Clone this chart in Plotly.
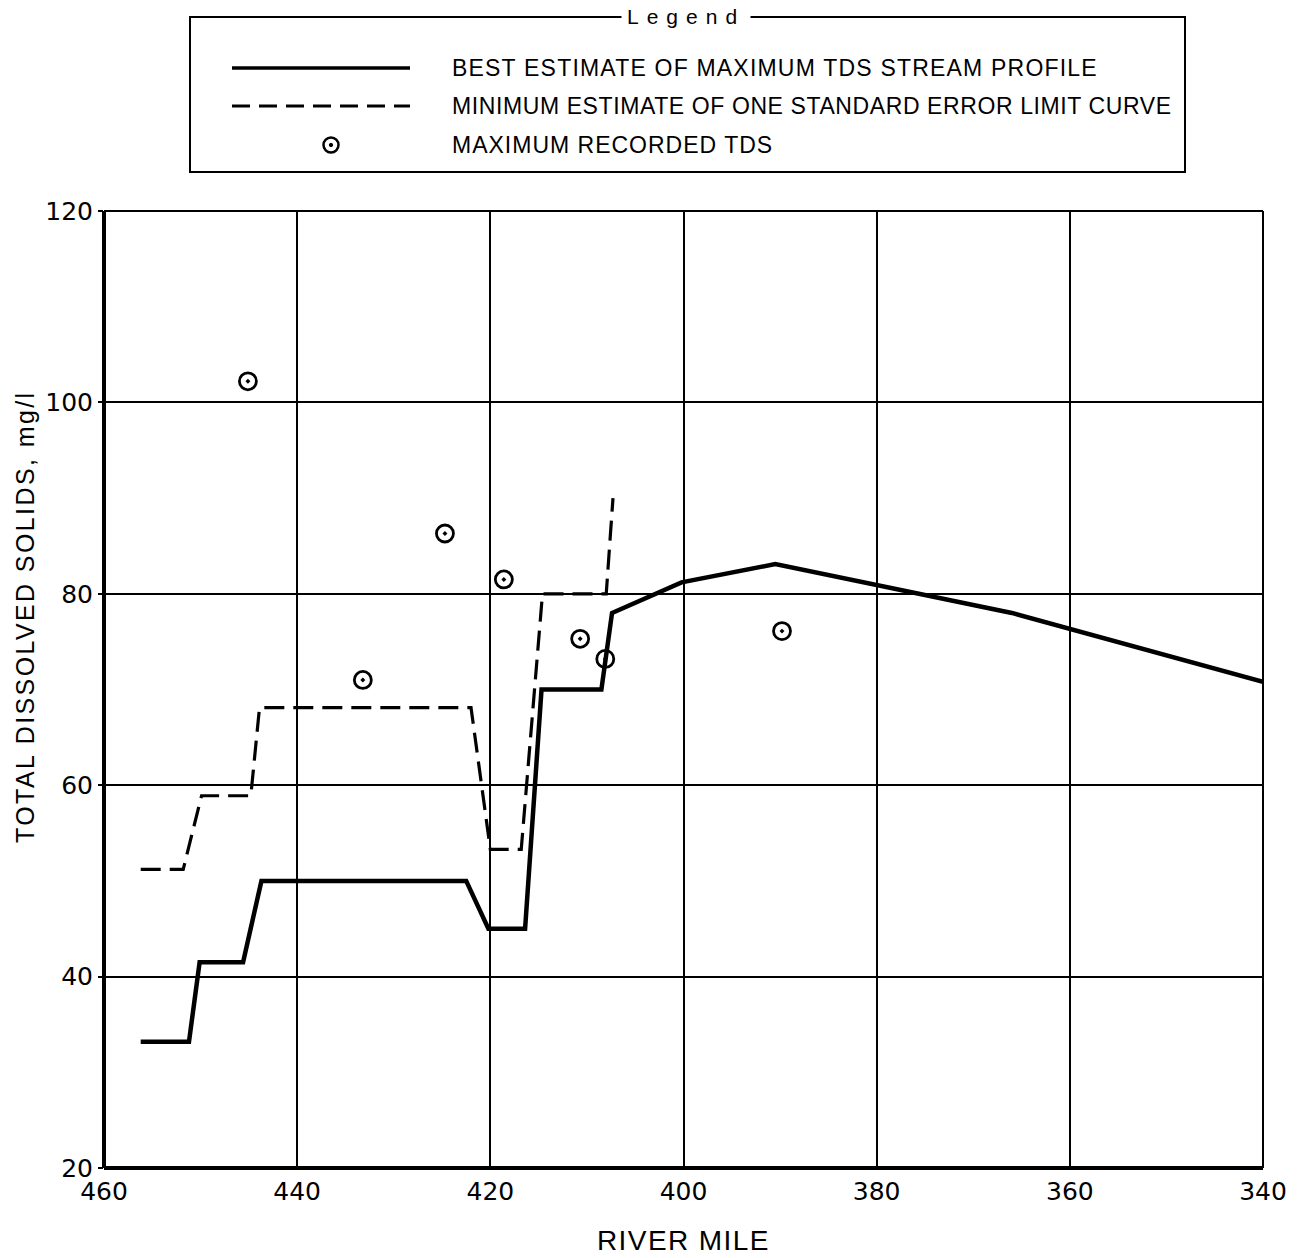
import plotly.graph_objects as go

# River mile (x) and total dissolved solids in mg/l (y)
best_mile = [456.2, 451.2, 450.1, 445.6, 443.7, 422.5, 420.2, 416.4, 414.7,
             408.5, 407.4, 400.2, 390.5, 366.0, 340.0]
best_tds = [33.2, 33.2, 41.5, 41.5, 50.0, 50.0, 45.0, 45.0, 70.0,
            70.0, 78.0, 81.2, 83.1, 78.0, 70.8]

min_mile = [456.2, 451.8, 449.9, 444.8, 443.9, 422.0, 420.0, 416.8, 414.6,
            408.0, 407.3]
min_tds = [51.2, 51.2, 58.9, 58.9, 68.1, 68.1, 53.3, 53.3, 80.0,
           80.0, 90.0]

rec_mile = [445.1, 433.2, 424.7, 418.6, 410.7, 408.1, 389.8]
rec_tds = [102.2, 71.0, 86.3, 81.5, 75.3, 73.2, 76.1]

x_ticks = [460, 440, 420, 400, 380, 360, 340]
y_ticks = [20, 40, 60, 80, 100, 120]

legend_labels = [
    "BEST ESTIMATE OF MAXIMUM TDS STREAM PROFILE",
    "MINIMUM ESTIMATE OF ONE STANDARD ERROR LIMIT CURVE",
    "MAXIMUM RECORDED TDS",
]

W, H = 1301, 1258
ML, MR, MT, MB = 104, 38, 211, 90
PW, PH = W - ML - MR, H - MT - MB

LETTER_FONT = "Liberation Sans, Arial, sans-serif"
DIGIT_FONT = "DejaVu Sans, Verdana, sans-serif"


def fx(px):
    """Page pixel column -> paper x."""
    return (px - ML) / PW


def fy(py):
    """Page pixel row -> paper y."""
    return (H - MB - py) / PH


def spaced(text, gap):
    return f'<span style="letter-spacing:{gap}px">{text}</span>'


fig = go.Figure()

fig.add_trace(go.Scatter(
    x=best_mile, y=best_tds, mode="lines", name=legend_labels[0],
    line=dict(color="black", width=4.5), showlegend=False,
))
fig.add_trace(go.Scatter(
    x=min_mile, y=min_tds, mode="lines", name=legend_labels[1],
    line=dict(color="black", width=3.2, dash="20px,9px"), showlegend=False,
))
fig.add_trace(go.Scatter(
    x=rec_mile, y=rec_tds, mode="markers", name=legend_labels[2],
    marker=dict(symbol="circle-open-dot", size=17, color="black",
                line=dict(color="black", width=2.8)),
    showlegend=False,
))

shapes = []
# plot frame: heavy left/bottom, lighter top/right
shapes.append(dict(type="line", xref="paper", yref="paper", x0=0, x1=1, y0=1, y1=1,
                   line=dict(color="black", width=2)))
shapes.append(dict(type="line", xref="paper", yref="paper", x0=1, x1=1, y0=0, y1=1,
                   line=dict(color="black", width=2)))
shapes.append(dict(type="line", xref="paper", yref="paper", x0=0, x1=0, y0=0, y1=1,
                   line=dict(color="black", width=4)))
shapes.append(dict(type="line", xref="paper", yref="paper", x0=0, x1=1, y0=0, y1=0,
                   line=dict(color="black", width=4)))

# legend box
shapes.append(dict(type="rect", xref="paper", yref="paper",
                   x0=fx(190), x1=fx(1185), y0=fy(172), y1=fy(17),
                   line=dict(color="black", width=2)))
row_y = [68, 106, 145]
row_spacing = [1.2, 0.6, 1.0]
shapes.append(dict(type="line", xref="paper", yref="paper",
                   x0=fx(232), x1=fx(410), y0=fy(row_y[0]), y1=fy(row_y[0]),
                   line=dict(color="black", width=3.5)))
shapes.append(dict(type="line", xref="paper", yref="paper",
                   x0=fx(232), x1=fx(410), y0=fy(row_y[1]), y1=fy(row_y[1]),
                   line=dict(color="black", width=3, dash="18px,9px")))
shapes.append(dict(type="circle", xref="paper", yref="paper",
                   x0=fx(323.5), x1=fx(338.5), y0=fy(row_y[2] + 7.5), y1=fy(row_y[2] - 7.5),
                   line=dict(color="black", width=2.5)))
shapes.append(dict(type="circle", xref="paper", yref="paper",
                   x0=fx(329.3), x1=fx(332.7), y0=fy(row_y[2] + 1.7), y1=fy(row_y[2] - 1.7),
                   line=dict(color="black", width=1), fillcolor="black"))

annotations = []
annotations.append(dict(
    xref="paper", yref="paper", x=fx(686), y=fy(17), xanchor="center", yanchor="middle",
    text=spaced("Legend", 8), showarrow=False, bgcolor="white", borderpad=5,
    font=dict(family=LETTER_FONT, size=21, color="black"),
))
for label, ry, sp in zip(legend_labels, row_y, row_spacing):
    annotations.append(dict(
        xref="paper", yref="paper", x=fx(450), y=fy(ry), xanchor="left", yanchor="middle",
        text=spaced(label, sp), showarrow=False,
        font=dict(family=LETTER_FONT, size=23, color="black"),
    ))
annotations.append(dict(
    xref="paper", yref="paper", x=fx(683), y=fy(1240), xanchor="center", yanchor="middle",
    text=spaced("RIVER MILE", 1.4), showarrow=False,
    font=dict(family=LETTER_FONT, size=28, color="black"),
))
annotations.append(dict(
    xref="paper", yref="paper", x=fx(25), y=fy(617), xanchor="center", yanchor="middle",
    text=spaced("TOTAL DISSOLVED SOLIDS, mg/l", 2.4), showarrow=False, textangle=-90,
    font=dict(family=LETTER_FONT, size=25, color="black"),
))

fig.update_layout(
    width=W, height=H,
    margin=dict(l=ML, r=MR, t=MT, b=MB),
    paper_bgcolor="white", plot_bgcolor="white",
    shapes=shapes, annotations=annotations,
    xaxis=dict(
        range=[460, 340], tickvals=x_ticks, ticktext=[str(v) for v in x_ticks],
        showgrid=True, gridcolor="black", gridwidth=1.5, zeroline=False,
        showline=False, ticks="", ticklabelstandoff=6,
        tickfont=dict(family=DIGIT_FONT, size=25, color="black"),
    ),
    yaxis=dict(
        range=[20, 120], tickvals=y_ticks, ticktext=[str(v) for v in y_ticks],
        showgrid=True, gridcolor="black", gridwidth=1.5, zeroline=False,
        showline=False, ticks="outside", ticklen=5, tickwidth=1.5, tickcolor="black",
        tickfont=dict(family=DIGIT_FONT, size=25, color="black"),
    ),
)

fig.write_html("out.html")
